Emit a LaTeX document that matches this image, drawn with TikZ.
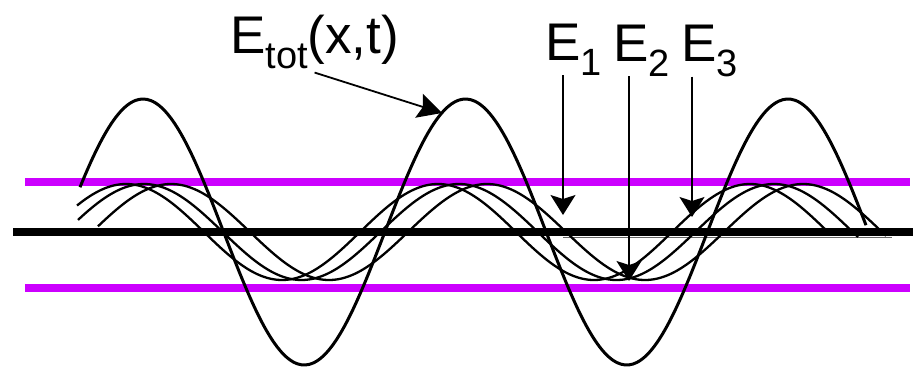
\documentclass[tikz,border=0pt]{standalone}
\usepackage{fontspec}
\setmainfont{Liberation Sans}
\usetikzlibrary{arrows.meta}
\definecolor{band}{RGB}{204,0,255}
\newcommand{\wsub}[1]{\raisebox{-15pt}{\fontsize{38}{40}\selectfont #1}}

\begin{document}
\begin{tikzpicture}[x=1pt, y=-1pt,
    lbl/.style={anchor=base west, inner sep=0pt, font=\fontsize{53}{60}\selectfont},
    wave/.style={line width=2.3pt, line join=round},
    pointer/.style={line width=1.3pt, -{Stealth[length=20pt, width=25pt, inset=4pt]}}]
  \useasboundingbox (0,0) rectangle (913,368);
  % bounds of the components
  \draw[band, line width=8pt] (25,182) -- (910,182);
  \draw[band, line width=8pt] (25,288) -- (910,288);
  % axis
  \draw[line width=7.5pt] (13,232) -- (913,232);
  \draw[black!60, line width=0.8pt] (563,237) -- (892,237);
  % components
  \draw[wave] plot[smooth, samples=160, domain=77:830] (\x, {232-48*cos(((\x-126)/312)*360)});
  \draw[wave] plot[smooth, samples=160, domain=78:858] (\x, {232-48*cos(((\x-144)/315)*360)});
  \draw[wave] plot[smooth, samples=160, domain=98:886] (\x, {232-48*cos(((\x-171)/316)*360)});
  % sum
  \draw[wave, line width=3pt] plot[smooth, samples=200, domain=80:866] (\x, {232-133*cos(((\x-143)/322.5)*360)});

  \coordinate (tiptot) at (442,113);
  \coordinate (tip1) at (563,215);
  \coordinate (tip2) at (629,281);
  \coordinate (tip3) at (692,217);

  \node[lbl] (etot) at (230,53) {E\wsub{tot}(x,t)};
  \node[lbl] (e1) at (545,60) {E\wsub{1}};
  \node[lbl] (e2) at (613,61) {E\wsub{2}};
  \node[lbl] (e3) at (681,61) {E\wsub{3}};

  \draw[pointer, line width=1.8pt, -{Stealth[length=24pt, width=25pt, inset=4pt]}] ([yshift=-4pt]etot.south) -- (tiptot);
  \draw[pointer] (tip1 |- e1.south) -- (tip1);
  \draw[pointer] (tip2 |- e2.south) -- (tip2);
  \draw[pointer] (tip3 |- e3.south) -- (tip3);
\end{tikzpicture}
\end{document}
